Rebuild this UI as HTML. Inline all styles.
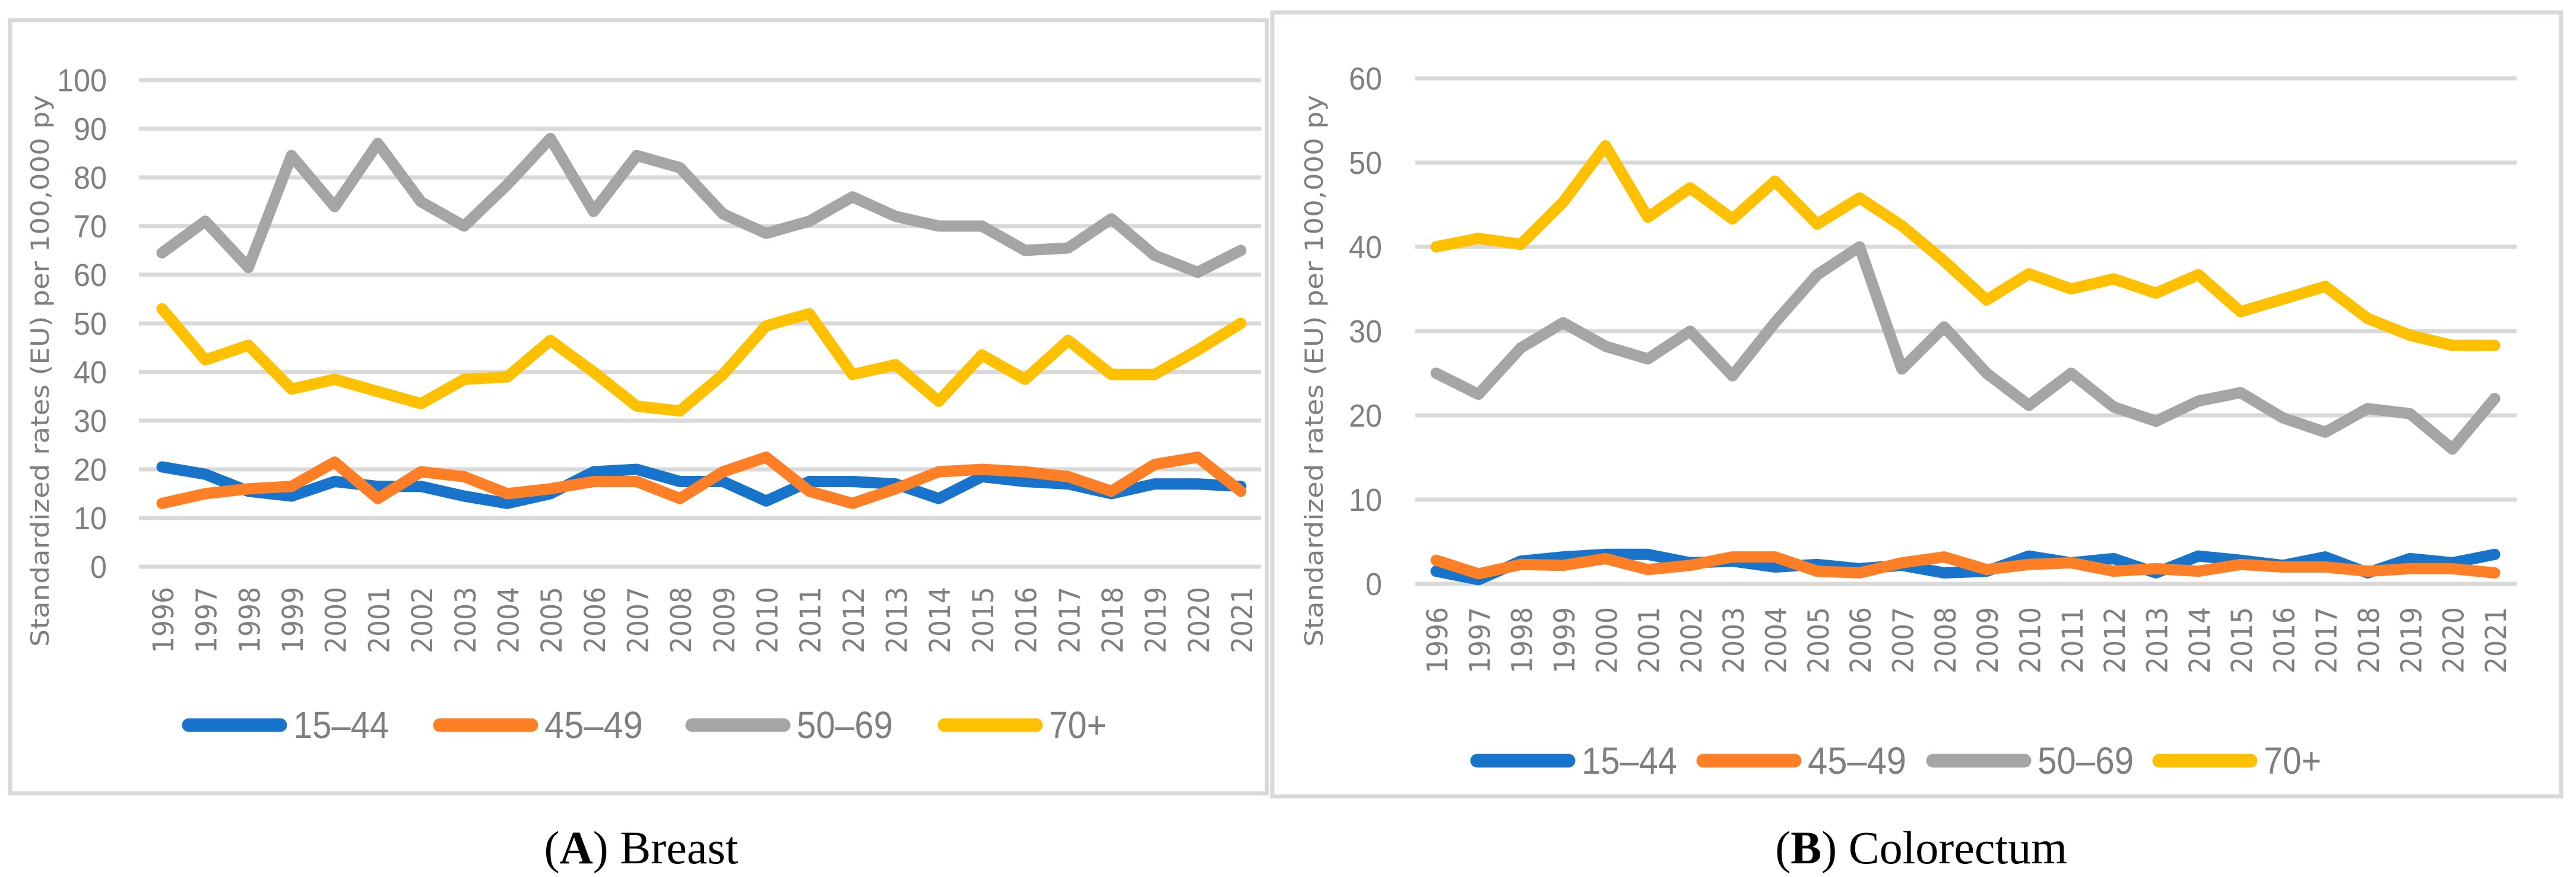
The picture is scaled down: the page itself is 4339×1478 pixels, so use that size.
<!DOCTYPE html>
<html><head><meta charset="utf-8"><style>
html,body{margin:0;padding:0;background:#fff;}
svg{display:block;}
</style></head><body>
<svg id="fig" width="4339" height="1478" viewBox="0 0 4339 1478" xmlns="http://www.w3.org/2000/svg">
<rect x="17" y="34" width="2117" height="1303" fill="#fff" stroke="#d9d9d9" stroke-width="7"/>
<rect x="2143" y="21" width="2171" height="1321" fill="#fff" stroke="#d9d9d9" stroke-width="7"/>
<g id="panelA"></g>
<g id="panelB"></g>
<text x="1080" y="1455" text-anchor="middle" font-family="'Liberation Serif', serif" font-size="78" fill="#000">(<tspan font-weight="bold">A</tspan>) Breast</text>
<text x="3236" y="1455" text-anchor="middle" font-family="'Liberation Serif', serif" font-size="78" fill="#000">(<tspan font-weight="bold">B</tspan>) Colorectum</text>
</svg>
<script>
const years = [1996,1997,1998,1999,2000,2001,2002,2003,2004,2005,2006,2007,2008,2009,2010,2011,2012,2013,2014,2015,2016,2017,2018,2019,2020,2021];
const seriesNames = ["15–44","45–49","50–69","70+"];
const seriesColors = ["#1874CA","#FF7F27","#A5A5A5","#FFC000"];
const breastTicks = [0,10,20,30,40,50,60,70,80,90,100];
const colorTicks = [0,10,20,30,40,50,60];
const breast1544 = [20.5,19,15.5,14.5,17.5,16.5,16.5,14.5,13,15,19.5,20,17.5,17.5,13.5,17.5,17.5,17,14,18.5,17.5,17,15,17,17,16.5];
const breast4549 = [13,15,16,16.5,21.5,14,19.5,18.5,15,16,17.5,17.5,14,19.5,22.5,15.5,13,16,19.5,20,19.5,18.5,15.5,21,22.5,15.5];
const breast5069 = [64.5,71,61.5,84.5,74,87,75,70,78.5,88,73,84.5,82,72.5,68.5,71,76,72,70,70,65,65.5,71.5,64,60.5,65];
const breast70 = [53,42.5,45.5,36.5,38.5,36,33.5,38.5,39,46.5,40,33,32,39.5,49.5,52,39.5,41.5,34,43.5,38.5,46.5,39.5,39.5,44.5,50];
const colo1544 = [1.5,0.5,2.7,3.2,3.5,3.5,2.5,2.7,2,2.3,1.8,2.2,1.3,1.5,3.3,2.5,3,1.3,3.3,2.8,2.2,3.2,1.3,3,2.5,3.5];
const colo4549 = [2.8,1.2,2.3,2.2,3,1.7,2.2,3.2,3.2,1.5,1.3,2.5,3.2,1.7,2.3,2.5,1.5,1.8,1.5,2.3,2,2,1.5,1.8,1.8,1.3];
const colo5069 = [25,22.5,28,31,28.2,26.7,30,24.7,31,36.7,40,25.5,30.5,25,21.2,25,21,19.3,21.7,22.7,19.7,18,20.8,20.2,16,22];
const colo70 = [40,41,40.3,45.3,52,43.5,47,43.3,47.8,42.7,45.8,42.5,38.3,33.7,36.8,35,36.2,34.5,36.7,32.3,33.8,35.3,31.5,29.5,28.3,28.3];

const NS = "http://www.w3.org/2000/svg";
function mk(parent, tag, attrs){
  const el = document.createElementNS(NS, tag);
  for (const k in attrs) el.setAttribute(k, attrs[k]);
  parent.appendChild(el);
  return el;
}
function drawPanel(g, cfg, ticks, data, id){
  const yMax = ticks[ticks.length-1];
  const ys = v => cfg.y0 - (v/yMax)*(cfg.y0 - cfg.yTop);
  const xs = i => cfg.x0 + i*(cfg.x1 - cfg.x0)/(years.length-1);
  ticks.forEach(t => {
    const ln = mk(g, "line", {x1:cfg.gx0, x2:cfg.gx1, y1:ys(t), y2:ys(t), stroke:"#d9d9d9", "stroke-width":7});
    
    
    const tx = mk(g, "text", {x:cfg.labR, y:ys(t)+19, "text-anchor":"end", "font-family":"'Liberation Sans Narrow','Liberation Sans',sans-serif", "font-size":54, fill:"#7f7f7f", textLength:String(t).length*28, lengthAdjust:"spacingAndGlyphs"});
    tx.textContent = t;
    
    
  });
  years.forEach((yr, i) => {
    const x = xs(i) + 19, y = cfg.yearTop;
    const tx = mk(g, "text", {x:x, y:y, transform:`rotate(-90 ${x} ${y})`, "text-anchor":"end", "font-family":"'DejaVu Sans',sans-serif", "font-size":48, fill:"#7f7f7f", textLength:112, lengthAdjust:"spacingAndGlyphs"});
    tx.textContent = yr;
    
    
  });
  const yt = mk(g, "text", {x:cfg.titleX, y:625, transform:`rotate(-90 ${cfg.titleX} 625)`, "text-anchor":"middle", "font-family":"'DejaVu Sans',sans-serif", "font-size":42, fill:"#7f7f7f", textLength:930, lengthAdjust:"spacingAndGlyphs"});
  yt.textContent = "Standardized rates (EU) per 100,000 py";
  
  
  data.forEach((arr, s) => {
    const pts = arr.map((v,i) => xs(i).toFixed(1)+","+ys(v).toFixed(1)).join(" ");
    const pl = mk(g, "polyline", {points:pts, fill:"none", stroke:seriesColors[s], "stroke-width":19, "stroke-linejoin":"round", "stroke-linecap":"round"});
    
    
  });
  const widths = [161,166,162,97];
  data.forEach((arr, s) => {
    const lx = cfg.legX[s];
    const ln = mk(g, "line", {x1:lx+12, x2:lx+166, y1:cfg.legY, y2:cfg.legY, stroke:seriesColors[s], "stroke-width":23, "stroke-linecap":"round"});
    
    
    const tx = mk(g, "text", {x:lx+188, y:cfg.legY+22, "font-family":"'Liberation Sans Narrow','Liberation Sans',sans-serif", "font-size":64, fill:"#7f7f7f", textLength:widths[s], lengthAdjust:"spacingAndGlyphs"});
    tx.textContent = seriesNames[s];
    
    
  });
}
drawPanel(document.getElementById("panelA"),
  {y0:955, yTop:135, x0:273, x1:2090, gx0:234, gx1:2124, labR:180, yearTop:989, titleX:82, legY:1222, legX:[306,729,1154,1579]},
  breastTicks, [breast1544, breast4549, breast5069, breast70], "breast");
drawPanel(document.getElementById("panelB"),
  {y0:984, yTop:132, x0:2419, x1:4202, gx0:2384, gx1:4239, labR:2328, yearTop:1023, titleX:2228, legY:1282, legX:[2476,2857,3244,3625]},
  colorTicks, [colo1544, colo4549, colo5069, colo70], "colorectum");
</script>
</body></html>
